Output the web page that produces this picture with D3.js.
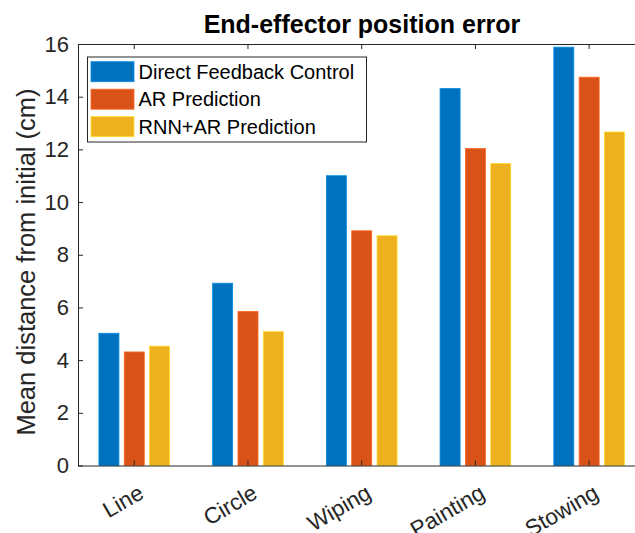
<!DOCTYPE html>
<html>
<head>
<meta charset="utf-8">
<script src="https://cdn.jsdelivr.net/npm/d3@7"></script>
<style>
  body { margin: 0; background: #fff; }
  svg { display: block; font-family: "Liberation Sans", Arial, sans-serif; }
</style>
</head>
<body>
<div id="chart-area"></div>
<script>
// data
var tasks = ["Line", "Circle", "Wiping", "Painting", "Stowing"];
var seriesNames = ["Direct Feedback Control", "AR Prediction", "RNN+AR Prediction"];
var directFeedback = [5.02, 6.92, 11.0, 14.31, 15.88];
var arPrediction = [4.31, 5.85, 8.91, 12.03, 14.74];
var rnnArPrediction = [4.53, 5.08, 8.72, 11.46, 12.66];
var yTicks = [0, 2, 4, 6, 8, 10, 12, 14, 16];

var seriesValues = [directFeedback, arPrediction, rnnArPrediction];
var colors = ["#0072BD", "#D95319", "#EDB120"];
var axisColor = "#262626";

var width = 635, height = 533;
var plotLeft = 78, plotTop = 44, plotBottom = 465.5, plotRight = 646;

var svg = d3.select("#chart-area")
    .append("svg")
        .attr("width", width)
        .attr("height", height);

// Scales
var x = d3.scaleBand()
    .domain(tasks)
    .range([plotLeft - 0.6, plotRight]);
var inner = d3.scaleBand()
    .domain(d3.range(seriesNames.length))
    .range([-38, 38])
    .paddingInner(0.21)
    .paddingOuter(0.105);
var y = d3.scaleLinear()
    .domain([0, 16])
    .range([plotBottom, plotTop]);

// Bars
var groups = svg.selectAll("g.group")
    .data(tasks)
    .enter().append("g")
        .attr("class", "group")
        .attr("transform", function(d) { return "translate(" + (x(d) + x.bandwidth() / 2) + ",0)"; });

groups.selectAll("rect")
    .data(function(d, i) {
        return seriesValues.map(function(s, k) { return { k: k, v: s[i] }; });
    })
    .enter().append("rect")
        .attr("x", function(d) { return inner(d.k); })
        .attr("width", inner.bandwidth())
        .attr("y", function(d) { return y(d.v); })
        .attr("height", function(d) { return y(0) - y(d.v); })
        .attr("fill", function(d) { return colors[d.k]; })
        .attr("stroke", function(d) { return d3.color(colors[d.k]).brighter(0.6); })
        .attr("stroke-width", 0.8);

// Y Axis
var yAxisCall = d3.axisLeft(y)
    .tickValues(yTicks)
    .tickSizeInner(-5)
    .tickSizeOuter(0)
    .tickPadding(9);
var yAxis = svg.append("g")
    .attr("transform", "translate(" + plotLeft + ",0)")
    .call(yAxisCall);
yAxis.select(".domain").attr("stroke", axisColor);
yAxis.selectAll(".tick line").attr("stroke", axisColor);
yAxis.selectAll(".tick text")
    .attr("fill", axisColor)
    .style("font-size", "22px")
    .attr("x", -9);

// X Axis (bottom, ticks inward)
var xAxisCall = d3.axisBottom(x)
    .tickSizeInner(-5)
    .tickSizeOuter(0)
    .tickFormat("");
var xAxis = svg.append("g")
    .attr("transform", "translate(0," + plotBottom + ")")
    .call(xAxisCall);
xAxis.select(".domain").attr("stroke", axisColor);
xAxis.selectAll(".tick line").attr("stroke", axisColor);

// Top box line
var topAxis = svg.append("g")
    .attr("transform", "translate(0," + plotTop + ")")
    .call(d3.axisTop(x).tickSizeInner(-5).tickSizeOuter(0).tickFormat(""));
topAxis.select(".domain").attr("stroke", axisColor);
topAxis.selectAll(".tick line").attr("stroke", axisColor);

// Rotated x labels
svg.selectAll("text.xlabel")
    .data(tasks)
    .enter().append("text")
        .attr("class", "xlabel")
        .attr("text-anchor", "end")
        .attr("transform", function(d) {
            return "translate(" + (x(d) + x.bandwidth() / 2 + 3) + "," + (plotBottom + 18) + ") rotate(-30)";
        })
        .attr("dy", "0.71em")
        .attr("fill", axisColor)
        .style("font-size", "22.5px")
        .text(function(d) { return d; });

// Y label
svg.append("text")
    .attr("transform", "translate(35,262) rotate(-90)")
    .attr("text-anchor", "middle")
    .attr("fill", axisColor)
    .style("font-size", "25.5px")
    .text("Mean distance from initial (cm)");

// Title
svg.append("text")
    .attr("x", (plotLeft + plotRight) / 2)
    .attr("y", 33)
    .attr("text-anchor", "middle")
    .attr("fill", "#000")
    .style("font-size", "25px")
    .style("font-weight", "bold")
    .text("End-effector position error");

// Legend
var legend = svg.append("g")
    .attr("transform", "translate(87.5,57)");
legend.append("rect")
    .attr("width", 279)
    .attr("height", 85)
    .attr("fill", "#fff")
    .attr("stroke", axisColor)
    .attr("stroke-width", 1);

seriesNames.forEach(function(name, i) {
    var row = legend.append("g")
        .attr("transform", "translate(0," + (14.7 + i * 27.5) + ")");
    row.append("rect")
        .attr("x", 3.5)
        .attr("y", -10)
        .attr("width", 43)
        .attr("height", 20)
        .attr("fill", colors[i])
        .attr("stroke", d3.color(colors[i]).brighter(0.6))
        .attr("stroke-width", 0.8);
    row.append("text")
        .attr("x", 51)
        .attr("dy", "0.35em")
        .attr("fill", "#000")
        .style("font-size", "20px")
        .text(name);
});
</script>
</body>
</html>
